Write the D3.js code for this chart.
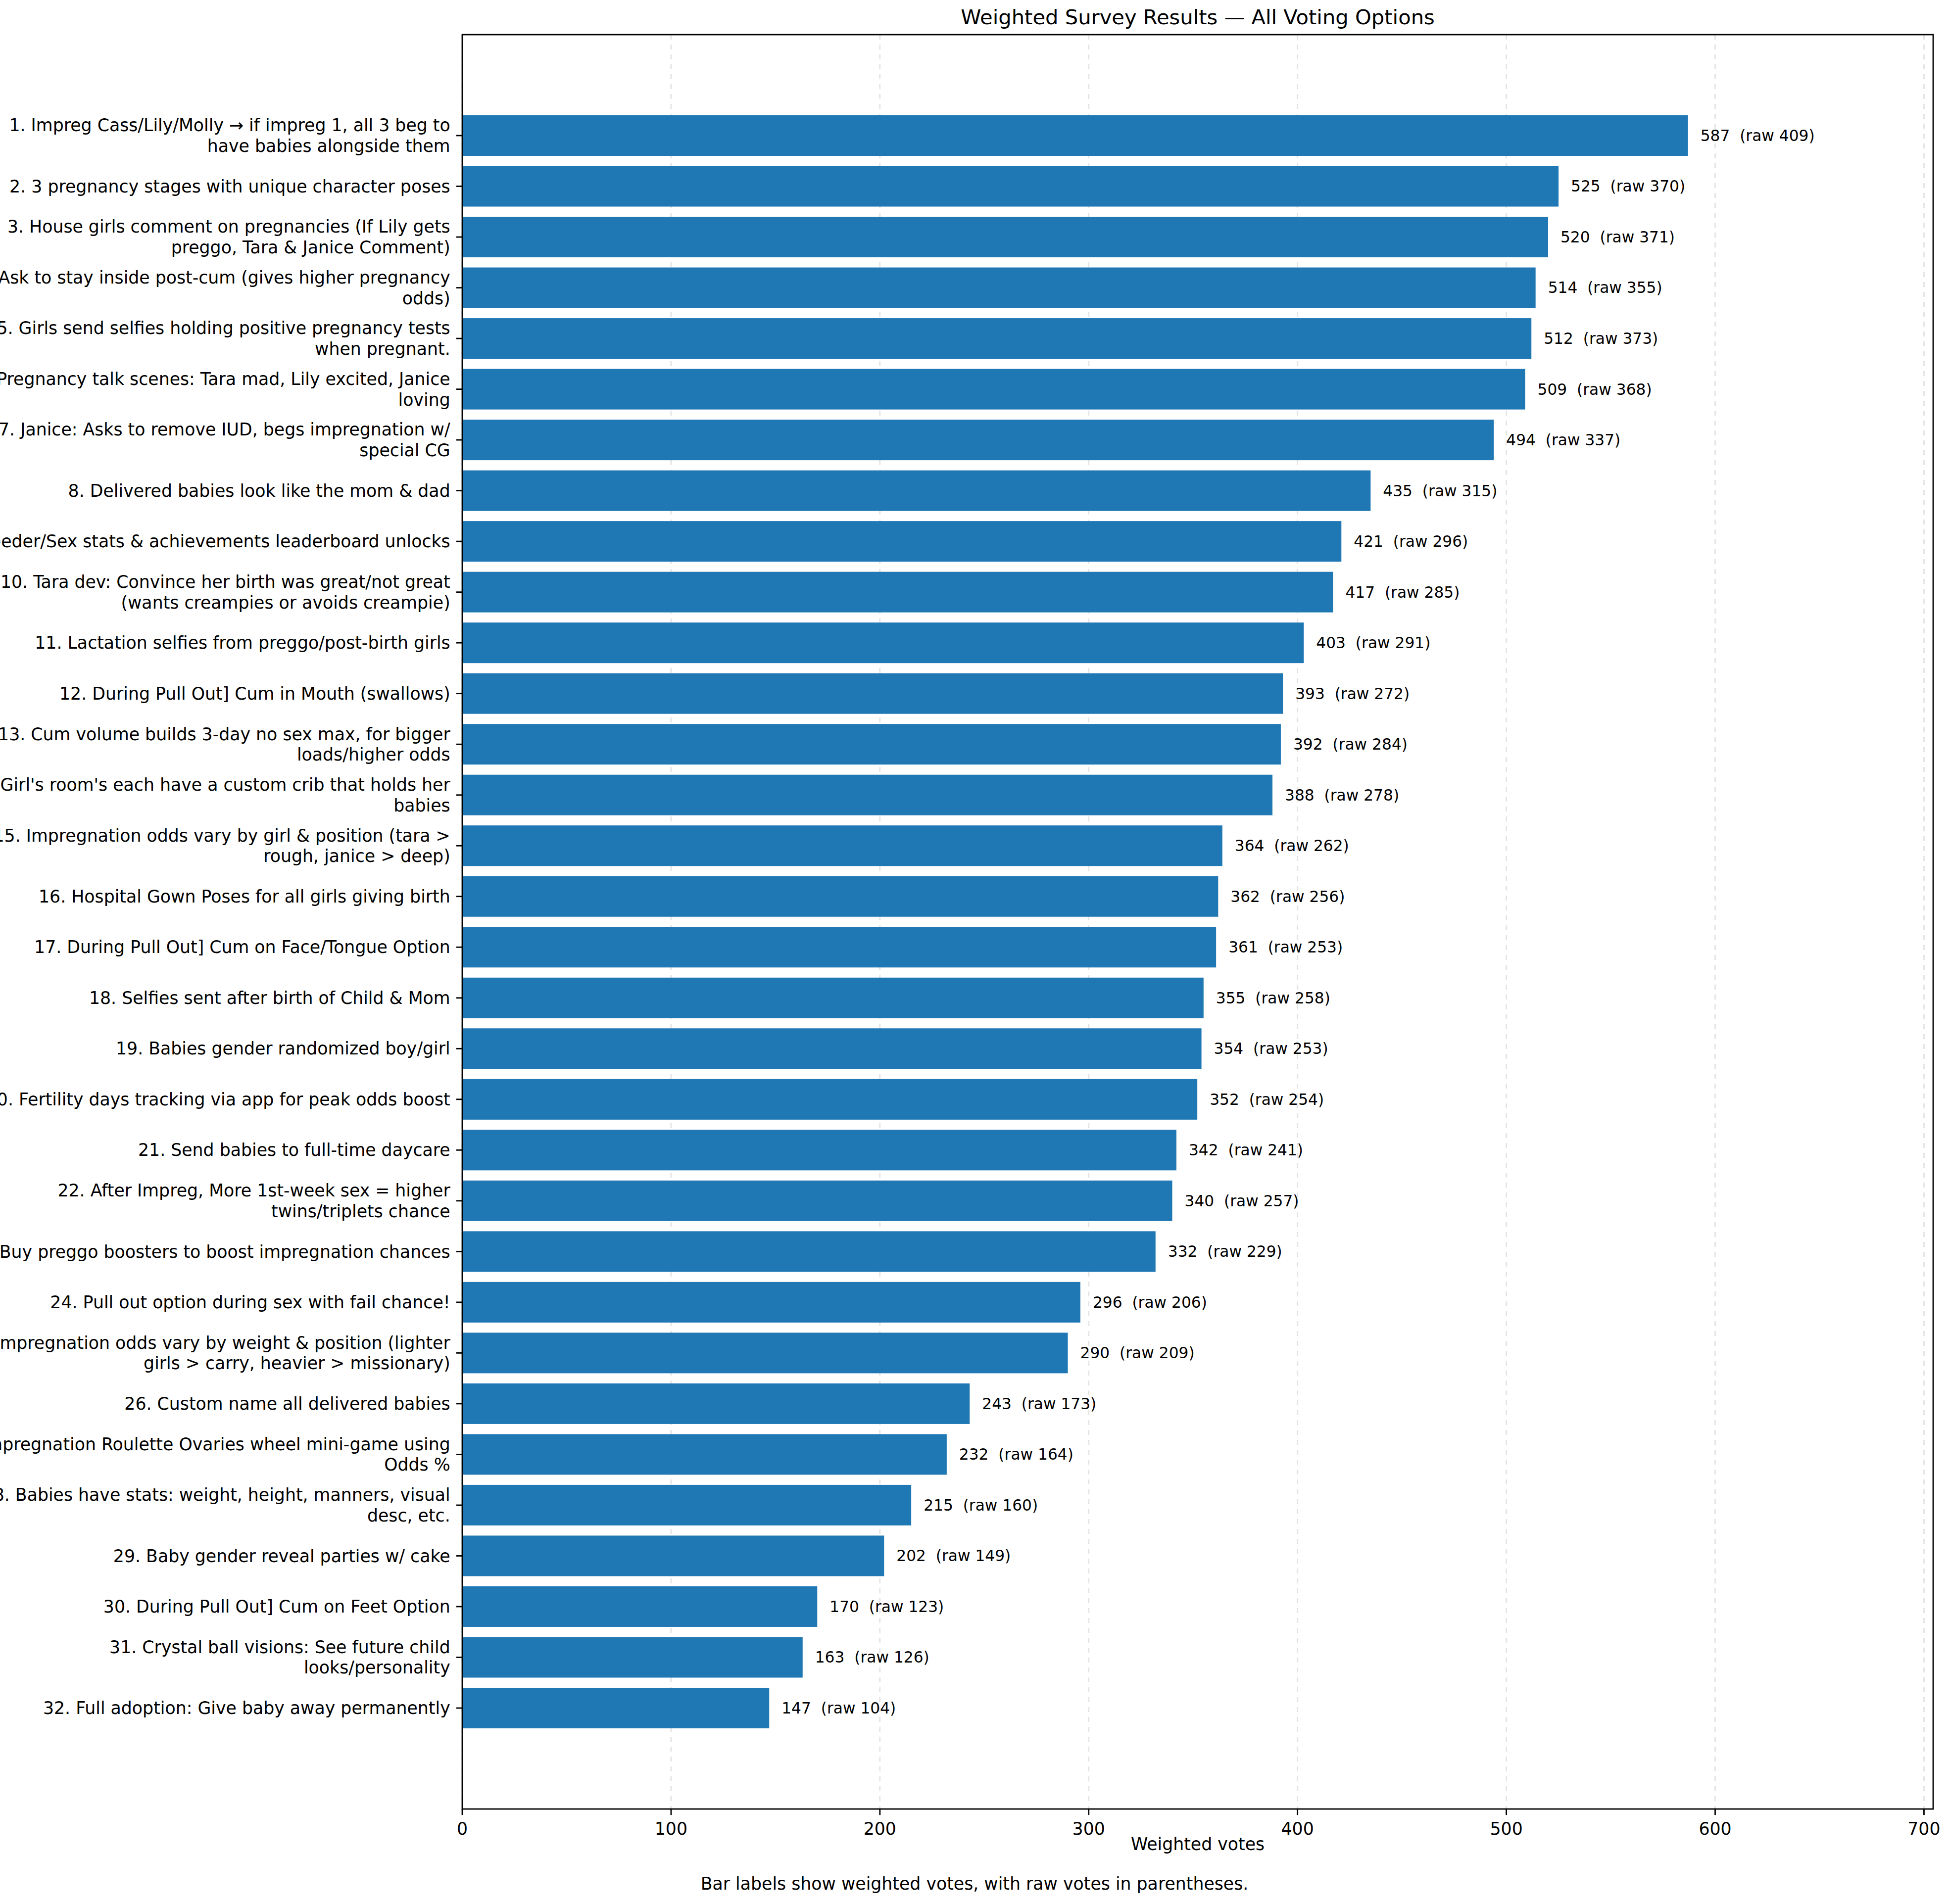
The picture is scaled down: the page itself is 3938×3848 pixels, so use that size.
<!DOCTYPE html>
<html>
<head>
<meta charset="utf-8">
<script src="https://cdn.jsdelivr.net/npm/d3@7"></script>
<style>
  body { margin: 0; background: #fff; }
  text { font-family: "DejaVu Sans", sans-serif; fill: #000; }
</style>
</head>
<body>
<div id="chart"></div>
<script>
var labels = [
  "1. Impreg Cass/Lily/Molly \u2192 if impreg 1, all 3 beg to\nhave babies alongside them",
  "2. 3 pregnancy stages with unique character poses",
  "3. House girls comment on pregnancies (If Lily gets\npreggo, Tara & Janice Comment)",
  "4. Ask to stay inside post-cum (gives higher pregnancy\nodds)",
  "5. Girls send selfies holding positive pregnancy tests\nwhen pregnant.",
  "6. Pregnancy talk scenes: Tara mad, Lily excited, Janice\nloving",
  "7. Janice: Asks to remove IUD, begs impregnation w/\nspecial CG",
  "8. Delivered babies look like the mom & dad",
  "9. Breeder/Sex stats & achievements leaderboard unlocks",
  "10. Tara dev: Convince her birth was great/not great\n(wants creampies or avoids creampie)",
  "11. Lactation selfies from preggo/post-birth girls",
  "12. During Pull Out] Cum in Mouth (swallows)",
  "13. Cum volume builds 3-day no sex max, for bigger\nloads/higher odds",
  "14. Girl's room's each have a custom crib that holds her\nbabies",
  "15. Impregnation odds vary by girl & position (tara >\nrough, janice > deep)",
  "16. Hospital Gown Poses for all girls giving birth",
  "17. During Pull Out] Cum on Face/Tongue Option",
  "18. Selfies sent after birth of Child & Mom",
  "19. Babies gender randomized boy/girl",
  "20. Fertility days tracking via app for peak odds boost",
  "21. Send babies to full-time daycare",
  "22. After Impreg, More 1st-week sex = higher\ntwins/triplets chance",
  "23. Buy preggo boosters to boost impregnation chances",
  "24. Pull out option during sex with fail chance!",
  "25. Impregnation odds vary by weight & position (lighter\ngirls > carry, heavier > missionary)",
  "26. Custom name all delivered babies",
  "27. Impregnation Roulette Ovaries wheel mini-game using\nOdds %",
  "28. Babies have stats: weight, height, manners, visual\ndesc, etc.",
  "29. Baby gender reveal parties w/ cake",
  "30. During Pull Out] Cum on Feet Option",
  "31. Crystal ball visions: See future child\nlooks/personality",
  "32. Full adoption: Give baby away permanently"
];
var weighted = [587, 525, 520, 514, 512, 509, 494, 435, 421, 417, 403, 393, 392, 388, 364, 362,
                361, 355, 354, 352, 342, 340, 332, 296, 290, 243, 232, 215, 202, 170, 163, 147];
var raw = [409, 370, 371, 355, 373, 368, 337, 315, 296, 285, 291, 272, 284, 278, 262, 256,
           253, 258, 253, 254, 241, 257, 229, 206, 209, 173, 164, 160, 149, 123, 126, 104];
var xTicks = [0, 100, 200, 300, 400, 500, 600, 700];

var W = 3938, H = 3848;
var plotLeft = 934, plotRight = 3906, plotTop = 70, plotBottom = 3656;
var pt = 250 / 72;

var svg = d3.select("#chart").append("svg")
  .attr("width", W).attr("height", H);

var n = weighted.length;
var xMax = d3.max(weighted) * 1.2;
var x = d3.scaleLinear().domain([0, xMax]).range([plotLeft, plotRight]);
var pad = (n - 1 + 0.8) * 0.05;
var y = d3.scaleLinear().domain([-0.4 - pad, n - 1 + 0.4 + pad]).range([plotTop, plotBottom]);

// grid
svg.append("g").selectAll("line").data(xTicks).enter().append("line")
  .attr("x1", d => x(d)).attr("x2", d => x(d))
  .attr("y1", plotTop).attr("y2", plotBottom)
  .attr("stroke", "#b0b0b0").attr("stroke-opacity", 0.35)
  .attr("stroke-width", 0.8 * pt).attr("stroke-dasharray", "10,10");

// bars
var bh = y(0.4) - y(-0.4);
svg.append("g").selectAll("rect").data(weighted).enter().append("rect")
  .attr("x", x(0)).attr("y", (d, i) => y(i) - bh / 2)
  .attr("width", d => x(d) - x(0)).attr("height", bh)
  .attr("fill", "#1f77b4");

// value labels
svg.append("g").selectAll("text").data(weighted).enter().append("text")
  .attr("x", d => x(d) + 25).attr("y", (d, i) => y(i))
  .attr("dy", "0.35em").attr("font-size", 9 * pt)
  .attr("xml:space", "preserve")
  .text((d, i) => d + "  (raw " + raw[i] + ")");

// y tick marks and labels
var yTick = svg.append("g");
labels.forEach(function(lab, i) {
  yTick.append("line").attr("x1", plotLeft - 3.5 * pt).attr("x2", plotLeft)
    .attr("y1", y(i)).attr("y2", y(i)).attr("stroke", "#000").attr("stroke-width", 0.8 * pt);
  var lines = lab.split("\n");
  var lh = 10 * pt * 1.2;
  var t = yTick.append("text").attr("text-anchor", "end").attr("font-size", 10 * pt);
  lines.forEach(function(s, k) {
    t.append("tspan").attr("x", plotLeft - 7 * pt)
      .attr("y", y(i) + (k - (lines.length - 1) / 2) * lh)
      .attr("dy", "0.35em").text(s);
  });
});

// x axis ticks
var xTick = svg.append("g");
xTicks.forEach(function(d) {
  xTick.append("line").attr("x1", x(d)).attr("x2", x(d))
    .attr("y1", plotBottom).attr("y2", plotBottom + 3.5 * pt)
    .attr("stroke", "#000").attr("stroke-width", 0.8 * pt);
  xTick.append("text").attr("x", x(d)).attr("y", plotBottom + 7 * pt)
    .attr("dy", "0.8em").attr("text-anchor", "middle").attr("font-size", 10 * pt).text(d);
});

// frame
svg.append("rect").attr("x", plotLeft).attr("y", plotTop)
  .attr("width", plotRight - plotLeft).attr("height", plotBottom - plotTop)
  .attr("fill", "none").attr("stroke", "#000").attr("stroke-width", 0.8 * pt);

svg.append("text").attr("x", (plotLeft + plotRight) / 2).attr("y", plotTop - 6 * pt)
  .attr("text-anchor", "middle").attr("font-size", 12 * pt)
  .text("Weighted Survey Results \u2014 All Voting Options");

svg.append("text").attr("x", (plotLeft + plotRight) / 2).attr("y", 3727)
  .attr("dy", "0.35em").attr("text-anchor", "middle").attr("font-size", 10 * pt)
  .text("Weighted votes");

svg.append("text").attr("x", W / 2).attr("y", 3807)
  .attr("dy", "0.35em").attr("text-anchor", "middle").attr("font-size", 10 * pt)
  .text("Bar labels show weighted votes, with raw votes in parentheses.");
</script>
</body>
</html>
